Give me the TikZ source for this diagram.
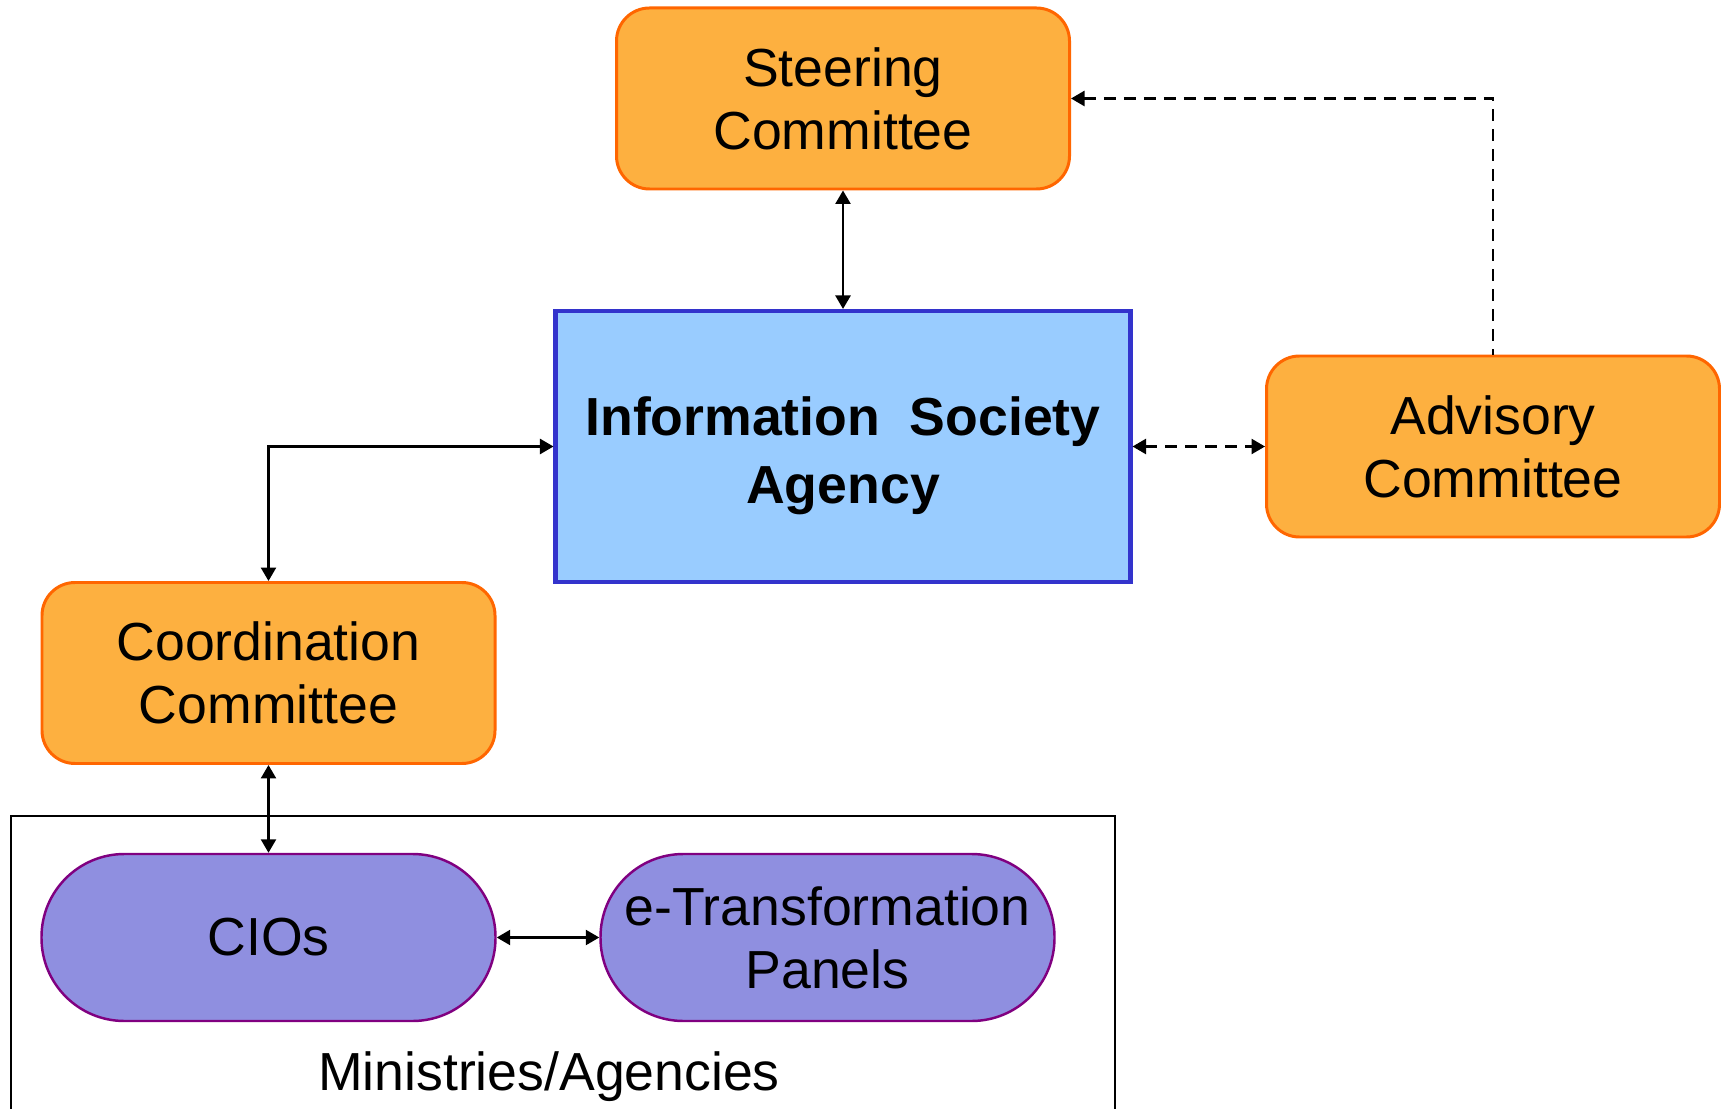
\documentclass[tikz,border=0pt]{standalone}
\usepackage{fontspec}
\setmainfont{Liberation Sans}
\usetikzlibrary{arrows.meta}

\definecolor{boxorange}{RGB}{253,176,64}
\definecolor{lineorange}{RGB}{255,102,0}
\definecolor{boxblue}{RGB}{153,204,255}
\definecolor{lineblue}{RGB}{51,51,204}
\definecolor{boxpurple}{RGB}{143,143,224}
\definecolor{linepurple}{RGB}{128,0,128}

\begin{document}
\begin{tikzpicture}[
  txt/.style={font=\fontsize{30.5}{35.9}\selectfont, align=center},
  committee/.style={txt, draw=lineorange, fill=boxorange, line width=1.7pt,
    rounded corners=0.66cm, minimum width=9.06cm, minimum height=3.62cm, inner sep=0pt},
  agency/.style={txt, draw=lineblue, fill=boxblue, line width=2.3pt,
    minimum width=11.5cm, minimum height=5.42cm, inner sep=0pt},
  unit/.style={txt, draw=linepurple, fill=boxpurple, line width=1.4pt,
    rounded corners=1.66cm, minimum width=9.08cm, minimum height=3.34cm, inner sep=0pt},
  link/.style={line width=1.4pt, {Triangle[length=0.27cm,width=0.3cm]}-{Triangle[length=0.27cm,width=0.3cm]}},
  dashlink/.style={link, dash pattern=on 0.24cm off 0.16cm}
]
\useasboundingbox (0,0) rectangle (34.42,22.16);

%ministries frame
\draw[line width=1.4pt] (0.22,5.84) rectangle (22.3,-1);
\node[txt] (min) at (10.98,0.63) {Ministries/Agencies};

%committees
\node[committee] (steer) at (16.86,20.19) {Steering\\Committee};
\node[committee] (adv) at (29.86,13.23) {Advisory\\Committee};
\node[committee] (coord) at (5.37,8.70) {Coordination\\Committee};

%agency
\node[agency, font=\fontsize{30.5}{38.5}\selectfont\bfseries] (isa) at (16.86,13.23)
  {\rule{0pt}{1.15cm}Information\ \ Society\\Agency};

%ministry units
\node[unit] (cio) at (5.37,3.41) {CIOs};
\node[unit] (etp) at (16.55,3.41) {e-Transformation\\Panels};

%links
\draw[link] (steer.south) -- (isa.north);
\draw[link] (coord.north) |- (isa.west);
\draw[dashlink] (isa.east) -- (adv.west);
\draw[dashlink, {Triangle[length=0.27cm,width=0.3cm]}-] (steer.east) -| (adv.north);
\draw[link] (coord.south) -- (cio.north);
\draw[link] (cio.east) -- (etp.west);

\end{tikzpicture}
\end{document}
